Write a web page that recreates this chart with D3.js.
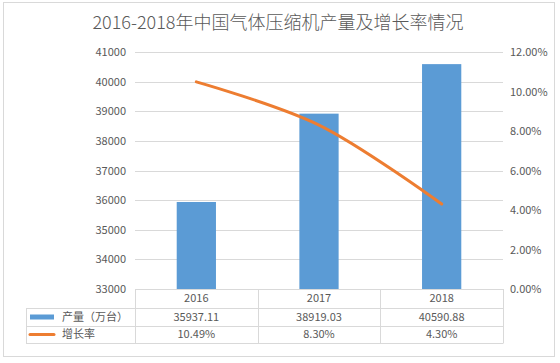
<!DOCTYPE html>
<html>
<head>
<meta charset="utf-8">
<script src="https://cdn.jsdelivr.net/npm/d3@7"></script>
<style>
  html, body { margin: 0; padding: 0; background: #fff; }
  svg { display: block; font-family: "Noto Sans CJK SC", "Noto Sans", sans-serif; }
</style>
</head>
<body>
<svg id="chart" width="560" height="363"></svg>
<script>
const categories = ["2016", "2017", "2018"];
const output = [35937.11, 38919.03, 40590.88];
const outputLabels = ["35937.11", "38919.03", "40590.88"];
const growth = [10.49, 8.30, 4.30];
const growthLabels = ["10.49%", "8.30%", "4.30%"];
const leftTicks = [33000, 34000, 35000, 36000, 37000, 38000, 39000, 40000, 41000];
const rightTicks = [0, 2, 4, 6, 8, 10, 12];
const seriesNames = ["产量（万台）", "增长率"];
const title = "2016-2018年中国气体压缩机产量及增长率情况";

const svg = d3.select("#chart");
const W = 560, H = 363;
const plot = { left: 135, right: 503, top: 52, bottom: 289 };
const textColor = "#595959";
const gridColor = "#d9d9d9";
const barColor = "#5b9bd5";
const lineColor = "#ed7d31";

// outer border
svg.append("rect").attr("x", 3.5).attr("y", 2.5).attr("width", 551).attr("height", 354)
  .attr("fill", "#fff").attr("stroke", "#d9d9d9").attr("stroke-width", 1);

// title
svg.append("text").attr("x", 278).attr("y", 29).attr("text-anchor", "middle")
  .attr("font-size", 18).attr("font-weight", 300).attr("fill", textColor).text(title);

const x = d3.scaleBand().domain(categories).range([plot.left, plot.right]).paddingInner(0).paddingOuter(0);
const yL = d3.scaleLinear().domain([33000, 41000]).range([plot.bottom, plot.top]);
const yR = d3.scaleLinear().domain([0, 12]).range([plot.bottom, plot.top]);

// gridlines
svg.append("g").selectAll("line").data(leftTicks).join("line")
  .attr("x1", plot.left).attr("x2", plot.right)
  .attr("y1", d => Math.round(yL(d)) + 0.5).attr("y2", d => Math.round(yL(d)) + 0.5)
  .attr("stroke", gridColor).attr("stroke-width", 1);

// left axis
const leftAxis = d3.axisLeft(yL).tickValues(leftTicks).tickSize(0).tickPadding(9).tickFormat(d3.format("d"));
const gL = svg.append("g").attr("transform", `translate(${plot.left},0)`).call(leftAxis);
gL.select(".domain").remove();
gL.selectAll("text").attr("font-size", 11).attr("fill", textColor)
  .style("font-family", '"Noto Sans CJK SC", sans-serif');

// right axis
const rightAxis = d3.axisRight(yR).tickValues(rightTicks).tickSize(0).tickPadding(7)
  .tickFormat(d => d.toFixed(2) + "%");
const gR = svg.append("g").attr("transform", `translate(${plot.right},0)`).call(rightAxis);
gR.select(".domain").remove();
gR.selectAll("text").attr("font-size", 11).attr("fill", textColor)
  .style("font-family", '"Noto Sans CJK SC", sans-serif');

// bars
const barW = x.bandwidth() * 0.32;
svg.append("g").selectAll("rect").data(categories).join("rect")
  .attr("x", (d) => x(d) + x.bandwidth() / 2 - barW / 2)
  .attr("width", barW)
  .attr("y", (d, i) => yL(output[i]))
  .attr("height", (d, i) => plot.bottom - yL(output[i]))
  .attr("fill", barColor);

// line
const line = d3.line()
  .x((d, i) => x(categories[i]) + x.bandwidth() / 2)
  .y(d => yR(d))
  .curve(d3.curveCatmullRom.alpha(0.5));
svg.append("path").datum(growth).attr("d", line)
  .attr("fill", "none").attr("stroke", lineColor).attr("stroke-width", 3)
  .attr("stroke-linecap", "round");

// data table
const rows = [plot.bottom, 308, 326, 343];
const tableLeft = 26;
const tg = svg.append("g").attr("stroke", gridColor).attr("stroke-width", 1);
tg.append("line").attr("x1", plot.left).attr("x2", plot.right).attr("y1", rows[0] + 0.5).attr("y2", rows[0] + 0.5);
[rows[1], rows[2], rows[3]].forEach(r => {
  tg.append("line").attr("x1", tableLeft).attr("x2", plot.right).attr("y1", r + 0.5).attr("y2", r + 0.5);
});
const vx = categories.map(c => x(c)).concat([plot.right]);
vx.forEach(v => {
  tg.append("line").attr("x1", Math.round(v) + 0.5).attr("x2", Math.round(v) + 0.5)
    .attr("y1", rows[0]).attr("y2", rows[3] + 0.5);
});
tg.append("line").attr("x1", tableLeft + 0.5).attr("x2", tableLeft + 0.5).attr("y1", rows[1]).attr("y2", rows[3] + 0.5);

const tt = svg.append("g").attr("font-size", 11).attr("fill", textColor);
tt.selectAll("text.h").data(categories).join("text").attr("class", "h")
  .attr("x", d => x(d) + x.bandwidth() / 2).attr("y", (rows[0] + rows[1]) / 2)
  .attr("dy", "0.35em").attr("text-anchor", "middle").text(d => d);
tt.selectAll("text.v1").data(outputLabels).join("text").attr("class", "v1")
  .attr("x", (d, i) => x(categories[i]) + x.bandwidth() / 2).attr("y", (rows[1] + rows[2]) / 2)
  .attr("dy", "0.35em").attr("text-anchor", "middle").text(d => d);
tt.selectAll("text.v2").data(growthLabels).join("text").attr("class", "v2")
  .attr("x", (d, i) => x(categories[i]) + x.bandwidth() / 2).attr("y", (rows[2] + rows[3]) / 2)
  .attr("dy", "0.35em").attr("text-anchor", "middle").text(d => d);

// legend keys
const r1 = (rows[1] + rows[2]) / 2, r2 = (rows[2] + rows[3]) / 2;
svg.append("rect").attr("x", 30).attr("y", r1 - 2.5).attr("width", 24).attr("height", 5).attr("fill", barColor);
svg.append("line").attr("x1", 30).attr("x2", 54).attr("y1", r2).attr("y2", r2)
  .attr("stroke", lineColor).attr("stroke-width", 3).attr("stroke-linecap", "round");
tt.append("text").attr("x", 62).attr("y", r1).attr("dy", "0.35em").text(seriesNames[0]);
tt.append("text").attr("x", 62).attr("y", r2).attr("dy", "0.35em").text(seriesNames[1]);
</script>
</body>
</html>
